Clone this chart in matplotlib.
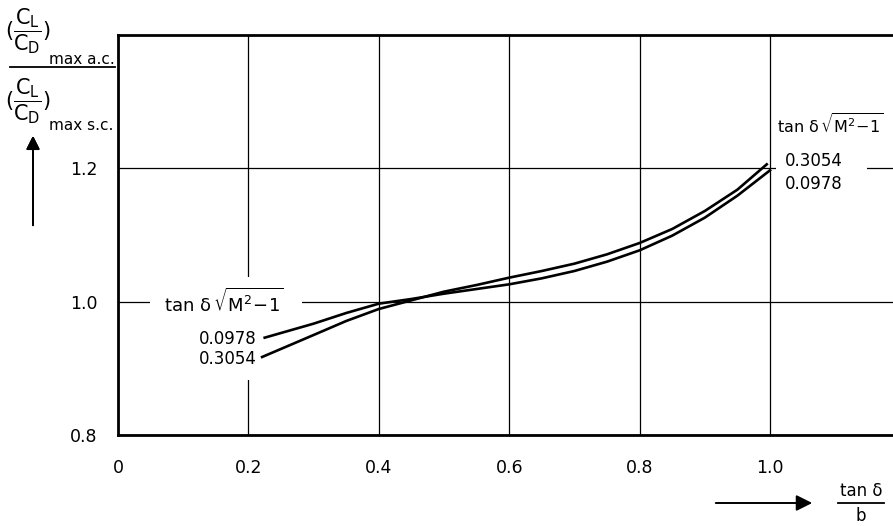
import matplotlib
matplotlib.use("Agg")
import matplotlib.pyplot as plt
from matplotlib.patches import Rectangle
from matplotlib.lines import Line2D

plt.rcParams['font.family'] = ['DejaVu Sans']
plt.rcParams['mathtext.fontset'] = 'dejavusans'

# curves
x_0978 = [0.225, 0.3, 0.35, 0.4, 0.45, 0.5, 0.55, 0.6, 0.65, 0.7, 0.75, 0.8, 0.85, 0.9, 0.95, 1.0]
y_0978 = [0.946, 0.967, 0.983, 0.997, 1.004, 1.012, 1.019, 1.026, 1.035, 1.046, 1.060, 1.077, 1.099, 1.126, 1.159, 1.197]
x_3054 = [0.221, 0.3, 0.35, 0.4, 0.45, 0.5, 0.55, 0.6, 0.65, 0.7, 0.75, 0.8, 0.85, 0.9, 0.95, 0.995]
y_3054 = [0.917, 0.950, 0.971, 0.989, 1.002, 1.015, 1.025, 1.036, 1.046, 1.057, 1.071, 1.088, 1.109, 1.136, 1.168, 1.206]

xticks = [0, 0.2, 0.4, 0.6, 0.8, 1.0]
xtick_labels = ["0", "0.2", "0.4", "0.6", "0.8", "1.0"]
yticks = [0.8, 1.0, 1.2]
ytick_labels = ["0.8", "1.0", "1.2"]
param_title = r"tan δ$\,\sqrt{\mathrm{M}^{2}\!-\!1}$"

W, H = 893, 526
fig = plt.figure(figsize=(W / 100, H / 100), dpi=100)


def px(x, y):
    # pixel position (from top-left) -> figure fraction
    return x / W, 1 - y / H


ax_l, ax_t = 118, 35
ax_b = 435
ax = fig.add_axes([ax_l / W, 1 - ax_b / H, (W - ax_l) / W, (ax_b - ax_t) / H])
ax.set_xlim(0, (W - ax_l) / 652)
ax.set_ylim(0.8, 1.4)

ax.set_axisbelow(True)
ax.grid(True, color='black', lw=0.9)
ax.spines['right'].set_visible(False)
for s in ['left', 'bottom', 'top']:
    ax.spines[s].set_linewidth(2.0)

ax.set_xticks(xticks)
ax.set_xticklabels(xtick_labels)
ax.set_yticks(yticks)
ax.set_yticklabels(ytick_labels)
ax.tick_params(axis='both', length=0, labelsize=12.5)
ax.tick_params(axis='x', pad=17)
ax.tick_params(axis='y', pad=15)


def mask(x0, y0, x1, y1):
    # white patch that breaks the grid behind the labels (pixel coords)
    fx0 = (x0 - ax_l) / (W - ax_l)
    fx1 = (x1 - ax_l) / (W - ax_l)
    fy0 = (ax_b - y1) / (ax_b - ax_t)
    fy1 = (ax_b - y0) / (ax_b - ax_t)
    ax.add_patch(Rectangle((fx0, fy0), fx1 - fx0, fy1 - fy0, transform=ax.transAxes,
                           facecolor='white', edgecolor='none', zorder=1))


mask(150, 277, 302, 380)
mask(776, 112, 867, 196)

ax.plot(x_0978, y_0978, color='black', lw=1.9, zorder=3)
ax.plot(x_3054, y_3054, color='black', lw=1.9, zorder=3)

# labels on the left
fig.text(*px(164, 302), param_title, fontsize=13, va='center', ha='left')
fig.text(*px(257, 339), "0.0978", fontsize=12, va='center', ha='right')
fig.text(*px(257, 359), "0.3054", fontsize=12, va='center', ha='right')
# labels on the right
fig.text(*px(777, 124), param_title, fontsize=11.5, va='center', ha='left')
fig.text(*px(785, 161), "0.3054", fontsize=12, va='center', ha='left')
fig.text(*px(785, 184), "0.0978", fontsize=12, va='center', ha='left')

# y axis title
frac = r"$(\dfrac{\mathrm{C_L}}{\mathrm{C_D}})$"
fig.text(*px(5, 31), frac, fontsize=15, va='center', ha='left')
fig.text(*px(49, 60), "max a.c.", fontsize=11, va='center', ha='left')
fig.add_artist(Line2D([10 / W, 115 / W], [1 - 67 / H, 1 - 67 / H], color='black', lw=1.3))
fig.text(*px(5, 101), frac, fontsize=15, va='center', ha='left')
fig.text(*px(49, 125), "max s.c.", fontsize=11, va='center', ha='left')

# arrows
fig.add_artist(plt.annotate('', xy=(33, H - 133), xytext=(33, H - 228), xycoords='figure pixels',
                            arrowprops=dict(arrowstyle='-|>', lw=1.4, color='black', mutation_scale=20)))
ax.annotate('', xy=(815, H - 503), xytext=(713, H - 503), xycoords='figure pixels',
            arrowprops=dict(arrowstyle='-|>', lw=1.4, color='black', mutation_scale=24))

# x axis title
fig.text(*px(861, 491), "tan δ", fontsize=12, va='center', ha='center')
fig.add_artist(Line2D([838 / W, 884 / W], [1 - 503 / H, 1 - 503 / H], color='black', lw=1.3))
fig.text(*px(861, 516), "b", fontsize=12, va='center', ha='center')

fig.savefig("out.png", dpi=100)
